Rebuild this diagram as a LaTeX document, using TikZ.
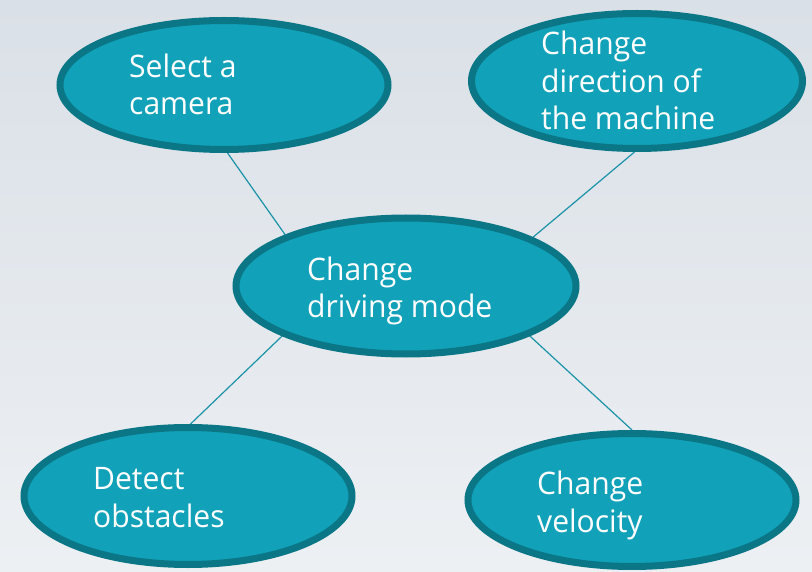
\documentclass[tikz,border=0pt]{standalone}
\usepackage{fontspec}
\setmainfont{Open Sans}[FakeStretch=0.97]
\usetikzlibrary{shapes.geometric,backgrounds}
\definecolor{bubfill}{HTML}{11A1B9}
\definecolor{bubdraw}{HTML}{0A7686}
\definecolor{linkcol}{HTML}{1A93A8}
\definecolor{bgtop}{HTML}{DAE0E7}
\definecolor{bgbot}{HTML}{EDF0F3}
\tikzset{
  bubble/.style={ellipse, draw=bubdraw, fill=bubfill, line width=7pt, inner sep=0pt},
  txt/.style={anchor=base west, align=left, text=white, inner sep=0pt,
    font=\fontsize{31}{37.5}\selectfont},
  link/.style={draw=linkcol, line width=1.2pt}
}
\begin{document}
\begin{tikzpicture}[x=1pt,y=-1pt]
\useasboundingbox (0,0) rectangle (812,572);
\node[bubble, minimum width=328pt, minimum height=129pt] (cam) at (224,85) {};
\node[bubble, minimum width=331pt, minimum height=135pt] (dir) at (637,81) {};
\node[bubble, minimum width=340pt, minimum height=136pt] (mode) at (406,286) {};
\node[bubble, minimum width=328pt, minimum height=137pt] (obs) at (188,496) {};
\node[bubble, minimum width=328pt, minimum height=133pt] (vel) at (632,500) {};
\node[txt] (tcam) at (129,115) {Select a\\camera};
\node[txt] (tdir) at (541,130) {Change\\direction of\\the machine};
\node[txt] (tmode) at (307,318) {Change\\driving mode};
\node[txt] (tobs) at (93,527) {Detect\\obstacles};
\node[txt] (tvel) at (537,532) {Change\\velocity};
\begin{pgfonlayer}{background}
\shade[top color=bgtop, bottom color=bgbot] (0,0) rectangle (812,572);
\draw[link] (cam.-87) -- (mode.157.5);
\draw[link] (dir.-92) -- (mode.21.5);
\draw[link] (mode.202.5) -- (obs.88.5);
\draw[link] (mode.-22) -- (vel.90);
\end{pgfonlayer}
\end{tikzpicture}
\end{document}
